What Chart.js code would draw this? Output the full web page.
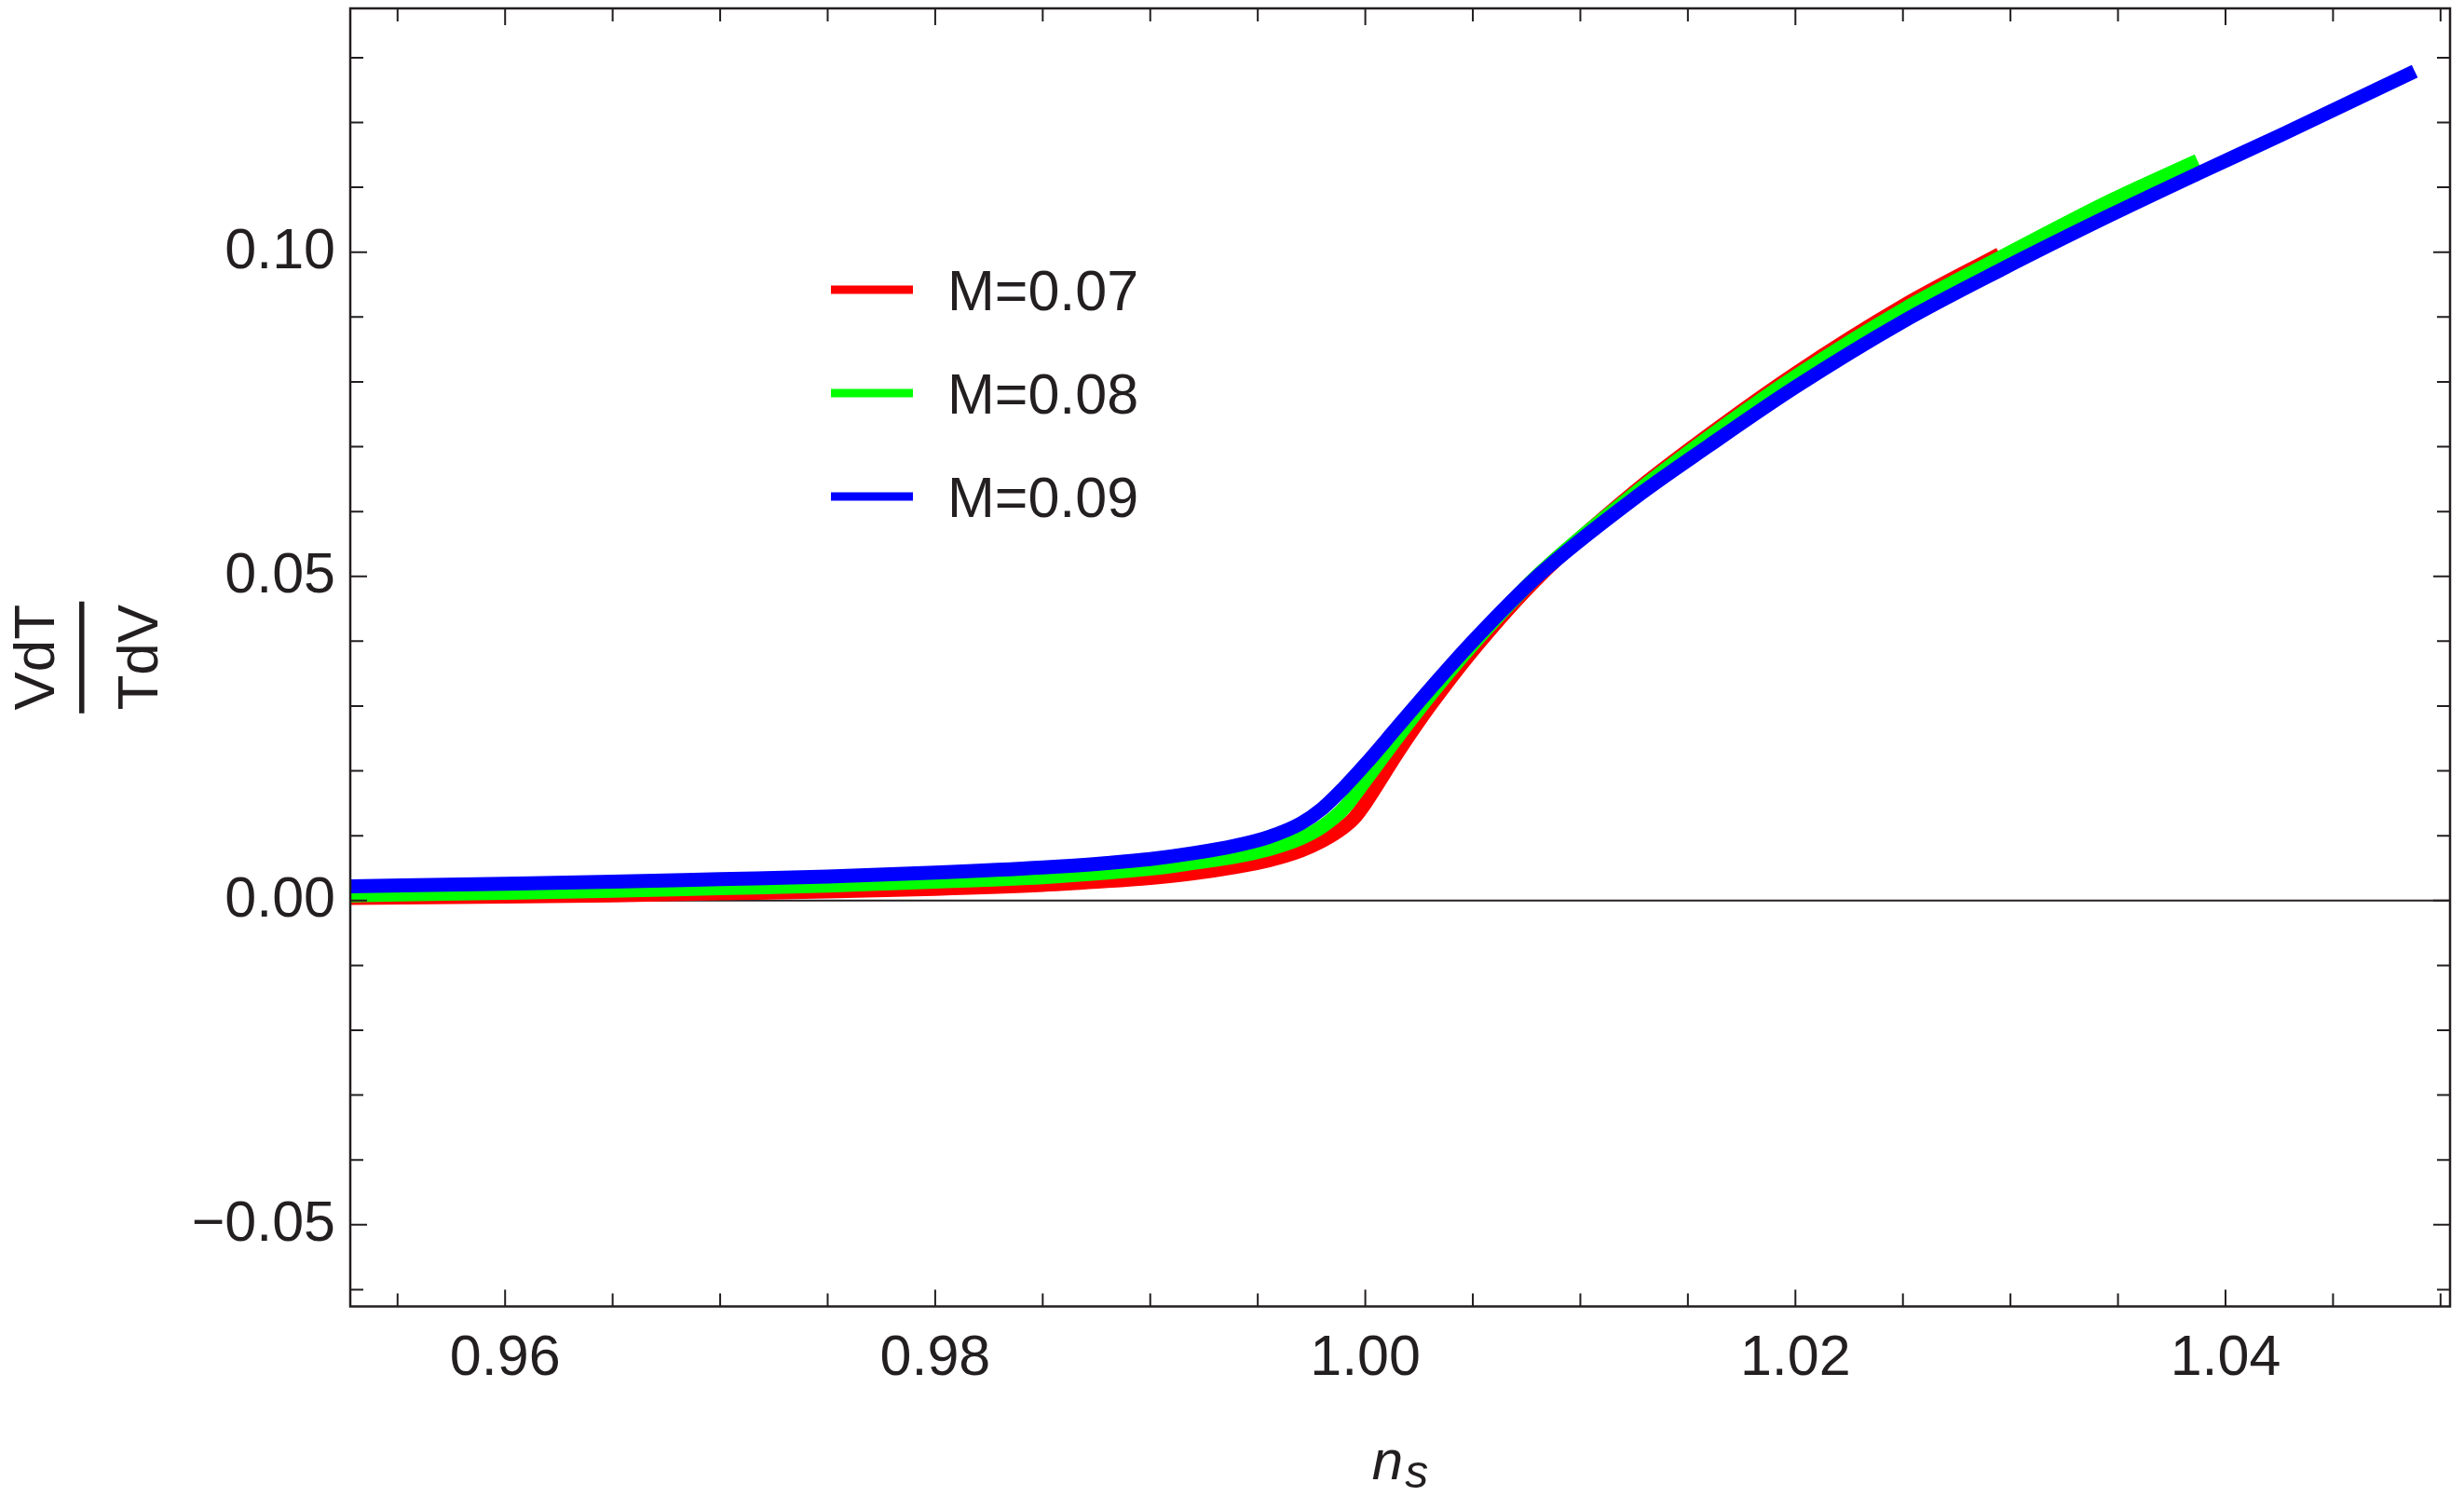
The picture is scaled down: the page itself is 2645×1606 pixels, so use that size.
<!DOCTYPE html>
<html><head><meta charset="utf-8">
<script src="https://cdn.jsdelivr.net/npm/chart.js@4"></script>
<style>html,body{margin:0;padding:0;background:#fff;}#wrap{width:2645px;height:1606px;}</style>
</head><body><div id="wrap"><canvas id="c" width="2645" height="1606"></canvas></div>
<script>
// ---- data ----
const seriesLabels = ['M=0.07', 'M=0.08', 'M=0.09'];
const seriesColors = ['#ff0000', '#00ff00', '#0000ff'];

const redNs  = [0.9528, 0.960, 0.965, 0.970, 0.975, 0.980, 0.985, 0.988, 0.990, 0.992, 0.994, 0.9955, 0.997, 0.998, 0.999, 0.9995, 1.000, 1.0015, 1.003, 1.005, 1.008, 1.0125, 1.016, 1.020, 1.025, 1.0295];
const redVal = [0.0004, 0.0006, 0.0008, 0.0011, 0.0014, 0.0018, 0.0024, 0.0030, 0.0035, 0.0042, 0.0052, 0.0062, 0.0077, 0.0092, 0.0113, 0.0128, 0.0150, 0.0228, 0.0300, 0.0386, 0.0497, 0.0630, 0.0719, 0.0813, 0.0917, 0.0997];

const greenNs  = [0.9528, 0.960, 0.965, 0.970, 0.975, 0.980, 0.985, 0.988, 0.990, 0.992, 0.994, 0.9955, 0.997, 0.998, 0.999, 1.000, 1.0015, 1.003, 1.005, 1.008, 1.0125, 1.016, 1.020, 1.025, 1.0295, 1.0347, 1.0387];
const greenVal = [0.0008, 0.0012, 0.0015, 0.0019, 0.0023, 0.0029, 0.0036, 0.0043, 0.0049, 0.0058, 0.0068, 0.0079, 0.0096, 0.0114, 0.0142, 0.0185, 0.0252, 0.0316, 0.0395, 0.0501, 0.0627, 0.0715, 0.0808, 0.0911, 0.0991, 0.1080, 0.1141];

const blueNs  = [0.9528, 0.960, 0.965, 0.970, 0.975, 0.980, 0.985, 0.988, 0.990, 0.992, 0.994, 0.9955, 0.997, 0.998, 0.999, 1.000, 1.0015, 1.003, 1.005, 1.008, 1.0125, 1.016, 1.020, 1.025, 1.0295, 1.0347, 1.0387, 1.0426, 1.0488];
const blueVal = [0.0022, 0.0026, 0.0029, 0.0033, 0.0037, 0.0043, 0.0051, 0.0058, 0.0064, 0.0073, 0.0085, 0.0098, 0.0119, 0.0142, 0.0174, 0.0210, 0.0268, 0.0326, 0.0400, 0.0500, 0.0620, 0.0702, 0.0792, 0.0893, 0.0972, 0.1058, 0.1121, 0.1181, 0.1279];

const xTickLabels = ['0.96', '0.98', '1.00', '1.02', '1.04'];
const yTickLabels = ['\u22120.05', '0.00', '0.05', '0.10'];
const xTitle = ['n', 's'];
const yTitle = ['VdT', 'TdV'];

// ---- style ----
const INK = '#231f20';
const FONT = '"Liberation Sans", Arial, Helvetica, sans-serif';
const toPts = (xs, ys) => xs.map((x, i) => ({x: x, y: ys[i]}));
const isMult = (v, s) => Math.abs(v / s - Math.round(v / s)) < 1e-6;
const fmt = v => (v < 0 ? '\u2212' : '') + Math.abs(v).toFixed(2);

const decor = {
  id: 'decor',
  beforeDatasetsDraw(chart) {
    const {ctx, chartArea: a, scales: {y}} = chart;
    const y0 = y.getPixelForValue(0);
    ctx.save();
    ctx.strokeStyle = INK; ctx.lineWidth = 2;
    ctx.beginPath(); ctx.moveTo(a.left, y0); ctx.lineTo(a.right, y0); ctx.stroke();
    ctx.restore();
  },
  afterDraw(chart) {
    const {ctx, chartArea: a, scales: {x, y}} = chart;
    ctx.save();
    ctx.strokeStyle = INK; ctx.fillStyle = INK;
    ctx.lineWidth = 2;
    ctx.beginPath();
    x.ticks.forEach(t => {
      const p = x.getPixelForValue(t.value);
      const len = isMult(t.value, 0.02) ? 18 : 14;
      ctx.moveTo(p, a.bottom); ctx.lineTo(p, a.bottom - len);
      ctx.moveTo(p, a.top); ctx.lineTo(p, a.top + len);
    });
    y.ticks.forEach(t => {
      const p = y.getPixelForValue(t.value);
      const len = isMult(t.value, 0.05) ? 18 : 14;
      ctx.moveTo(a.left, p); ctx.lineTo(a.left + len, p);
      ctx.moveTo(a.right, p); ctx.lineTo(a.right - len, p);
    });
    ctx.stroke();
    ctx.lineWidth = 2.5;
    ctx.strokeRect(a.left, a.top, a.right - a.left, a.bottom - a.top);

    // legend
    const rows = [302, 413, 524];
    chart.data.datasets.forEach((ds, i) => {
      const yy = a.top + rows[i];
      ctx.fillStyle = ds.borderColor;
      ctx.fillRect(a.left + 516, yy - 4.5, 88, 9);
      ctx.fillStyle = INK;
      ctx.font = '61px ' + FONT;
      ctx.textAlign = 'left'; ctx.textBaseline = 'alphabetic';
      ctx.fillText(ds.label, a.left + 641, yy + 22);
    });

    // x title  n_s
    ctx.font = 'italic 60px ' + FONT;
    const wn = ctx.measureText(xTitle[0]).width;
    ctx.font = 'italic 50px ' + FONT;
    const ws = ctx.measureText(xTitle[1]).width;
    const cx = (a.left + a.right) / 2;
    const sx = cx - (wn + ws + 2) / 2;
    ctx.textAlign = 'left'; ctx.textBaseline = 'alphabetic';
    ctx.font = 'italic 60px ' + FONT;
    ctx.fillText(xTitle[0], sx, 1588);
    ctx.font = 'italic 50px ' + FONT;
    ctx.fillText(xTitle[1], sx + wn + 2, 1597);

    // y title fraction
    const cy = (a.top + a.bottom) / 2;
    ctx.translate(0, cy);
    ctx.rotate(-Math.PI / 2);
    ctx.font = '62px ' + FONT;
    ctx.textAlign = 'center'; ctx.textBaseline = 'alphabetic';
    ctx.fillText(yTitle[0], 0, 58);
    ctx.fillRect(-60, 85, 120, 5.5);
    ctx.fillText(yTitle[1], 0, 169);
    ctx.restore();
  }
};

const common = {
  fill: false, pointRadius: 0, pointHoverRadius: 0, borderWidth: 15,
  cubicInterpolationMode: 'monotone', borderJoinStyle: 'round', borderCapStyle: 'butt'
};

new Chart(document.getElementById('c'), {
  type: 'line',
  data: {
    datasets: [
      Object.assign({label: seriesLabels[0], data: toPts(redNs, redVal), borderColor: seriesColors[0], order: 3}, common),
      Object.assign({label: seriesLabels[1], data: toPts(greenNs, greenVal), borderColor: seriesColors[1], order: 2}, common),
      Object.assign({label: seriesLabels[2], data: toPts(blueNs, blueVal), borderColor: seriesColors[2], order: 1}, common)
    ]
  },
  options: {
    responsive: false, animation: false, devicePixelRatio: 1,
    layout: {padding: {left: 0, right: 15, top: 9, bottom: 0}},
    plugins: {legend: {display: false}, tooltip: {enabled: false}},
    scales: {
      x: {
        type: 'linear', min: 0.9528, max: 1.05044,
        grid: {display: false, drawTicks: false},
        border: {display: false},
        afterFit(s) { s.height = 203.5; s.paddingLeft = 0; s.paddingRight = 0; s.paddingTop = 0; s.paddingBottom = 0; },
        ticks: {
          stepSize: 0.005, includeBounds: false, autoSkip: false, maxRotation: 0, minRotation: 0,
          maxTicksLimit: 1000, padding: 20, color: INK,
          font: {family: FONT, size: 61},
          callback(v) { const s = v.toFixed(2); return (isMult(v, 0.02) && xTickLabels.includes(s)) ? s : ''; }
        }
      },
      y: {
        type: 'linear', min: -0.0626, max: 0.1376,
        grid: {display: false, drawTicks: false},
        border: {display: false},
        afterFit(s) { s.width = 376; s.paddingLeft = 0; s.paddingRight = 0; s.paddingTop = 0; s.paddingBottom = 0; },
        ticks: {
          stepSize: 0.01, includeBounds: false, autoSkip: false, maxTicksLimit: 1000,
          padding: 16, color: INK,
          font: {family: FONT, size: 61},
          callback(v) { const s = fmt(v); return (isMult(v, 0.05) && yTickLabels.includes(s)) ? s : ''; }
        }
      }
    }
  },
  plugins: [decor]
});
</script></body></html>
